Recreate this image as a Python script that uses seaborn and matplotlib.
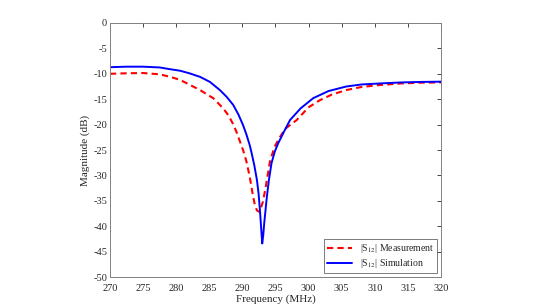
import pandas as pd
import matplotlib
matplotlib.use("Agg")
import matplotlib.pyplot as plt
import seaborn as sns

# values (frequency in MHz, magnitude in dB)
freq_meas = [270, 272.5, 275, 277.5, 279.1, 280.6, 282.1, 283.6, 285.6, 287.1, 287.9, 288.6,
             289.1, 289.6, 290.1, 290.6, 291.1, 291.6, 291.9, 292.2, 292.6, 293.1, 293.5,
             293.7, 294.2, 294.9, 295.5, 296.5, 298.2, 300, 301.7, 303.5, 305.7, 308, 310.8,
             314, 317, 320]
mag_meas = [-10.0, -9.9, -9.85, -10.1, -10.6, -11.2, -12.2, -13.2, -14.8, -16.8, -18.2, -19.9,
            -21.4, -23.2, -25.0, -27.2, -30.2, -34.0, -35.9, -36.9, -37.2, -35.2, -32.5,
            -30.9, -27.0, -24.3, -22.8, -20.8, -19.1, -16.6, -15.2, -14.1, -13.2, -12.6,
            -12.2, -11.9, -11.75, -11.7]

freq_sim = [270, 272.5, 275, 277.5, 279.1, 280.6, 282, 283.6, 285.1, 286.6, 287.6, 288.6,
            289.4, 290.1, 290.6, 291.1, 291.4, 291.8, 292.2, 292.45, 292.65, 292.85, 293.0,
            293.15, 293.3, 293.7, 294.0, 294.4, 294.9, 295.4, 296.4, 297.2, 298.8, 300.7,
            303, 305.7, 308, 310.8, 314, 317, 320]
mag_sim = [-8.7, -8.6, -8.6, -8.75, -9.1, -9.4, -9.9, -10.6, -11.6, -13.2, -14.5, -16.1,
           -18.0, -20.1, -21.9, -24.0, -25.6, -28.0, -30.9, -33.6, -36.8, -40.6, -43.4,
           -41.8, -39.4, -34.2, -31.0, -27.6, -25.3, -23.7, -21.1, -19.1, -16.8, -14.8,
           -13.4, -12.5, -12.1, -11.9, -11.7, -11.6, -11.55]

meas = pd.DataFrame({"freq": freq_meas, "mag": mag_meas})
sim = pd.DataFrame({"freq": freq_sim, "mag": mag_sim})

sns.set_style("white")
plt.rcParams["font.family"] = ["Liberation Serif", "DejaVu Serif"]
plt.rcParams["mathtext.fontset"] = "stix"
plt.rcParams["axes.unicode_minus"] = False

fig = plt.figure(figsize=(5.45, 3.07), dpi=100)
ax = fig.add_axes([0.2018, 0.0977, 0.6073, 0.8274])

sns.lineplot(data=meas, x="freq", y="mag", ax=ax, color="red", linewidth=1.5,
             linestyle=(0, (3, 2)), label="|S$_{12}$| Measurement")
sns.lineplot(data=sim, x="freq", y="mag", ax=ax, color="blue", linewidth=1.4,
             label="|S$_{12}$| Simulation")

ax.set_xlim(270, 320)
ax.set_ylim(-50, 0)
ax.set_xticks(range(270, 321, 5))
ax.set_yticks(range(-50, 1, 5))
ax.set_xlabel("Frequency (MHz)", fontsize=8, labelpad=1)
ax.set_ylabel("Magnitude (dB)", fontsize=8, labelpad=2)
ax.tick_params(direction="in", length=3, width=0.6, labelsize=7.5, colors="#262626",
               top=True, right=True, pad=2)
ax.tick_params(axis="x", pad=5)
for s in ax.spines.values():
    s.set_color("#808080")
    s.set_linewidth(0.7)

leg = ax.legend(loc="lower right", fontsize=7, frameon=True, fancybox=False,
                borderaxespad=0.4, handlelength=2.6, borderpad=0.3, labelspacing=0.2)
leg.get_frame().set_edgecolor("#404040")
leg.get_frame().set_linewidth(0.6)

fig.savefig("out.png", dpi=100)
